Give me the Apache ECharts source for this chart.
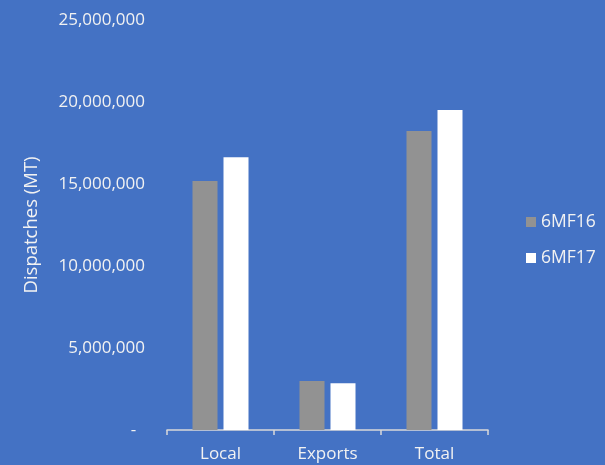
<!DOCTYPE html>
<html>
<head>
<meta charset="utf-8">
<script src="https://cdn.jsdelivr.net/npm/echarts@6/dist/echarts.min.js"></script>
<style>
html,body{margin:0;padding:0;background:#4472C4;}
#c{width:605px;height:465px;}
</style>
</head>
<body>
<div id="c"></div>
<script>
const categories = ['Local', 'Exports', 'Total'];
const series6MF16 = [15180000, 2990000, 18230000];
const series6MF17 = [16630000, 2850000, 19510000];
const yTicks = [0, 5000000, 10000000, 15000000, 20000000, 25000000];

const chart = echarts.init(document.getElementById('c'));
const font = 'Open Sans';
const txt = '#F2F2F2';
chart.setOption({
  backgroundColor: '#4472C4',
  animation: false,
  textStyle: { fontFamily: font },
  grid: { left: 167, right: 117, top: 20, bottom: 35 },
  legend: {
    orient: 'vertical',
    left: 521,
    top: 208,
    itemWidth: 10,
    itemHeight: 10,
    itemGap: 18,
    icon: 'rect',
    textStyle: { color: txt, fontSize: 17.5, fontFamily: font },
    data: ['6MF16', '6MF17']
  },
  xAxis: {
    type: 'category',
    data: categories,
    axisLine: { lineStyle: { color: '#D9D9D9', width: 1.5 } },
    axisTick: { show: true, length: 5, lineStyle: { color: '#D9D9D9', width: 1.5 } },
    axisLabel: { color: txt, fontSize: 17, margin: 16, fontFamily: font }
  },
  yAxis: {
    type: 'value',
    min: 0,
    max: 25000000,
    interval: 5000000,
    name: 'Dispatches (MT)',
    nameLocation: 'middle',
    nameGap: 126,
    nameTextStyle: { color: txt, fontSize: 18.5, fontFamily: font },
    axisLine: { show: false },
    axisTick: { show: false },
    splitLine: { show: false },
    axisLabel: {
      color: txt, fontSize: 17, margin: 22, fontFamily: font,
      formatter: function (v) { return v === 0 ? '-  ' : v.toLocaleString('en-US'); }
    }
  },
  series: [
    { name: '6MF16', type: 'bar', data: series6MF16, barWidth: 25, barGap: '24%', itemStyle: { color: '#929292' } },
    { name: '6MF17', type: 'bar', data: series6MF17, barWidth: 25, itemStyle: { color: '#FFFFFF' } }
  ]
});
</script>
</body>
</html>
